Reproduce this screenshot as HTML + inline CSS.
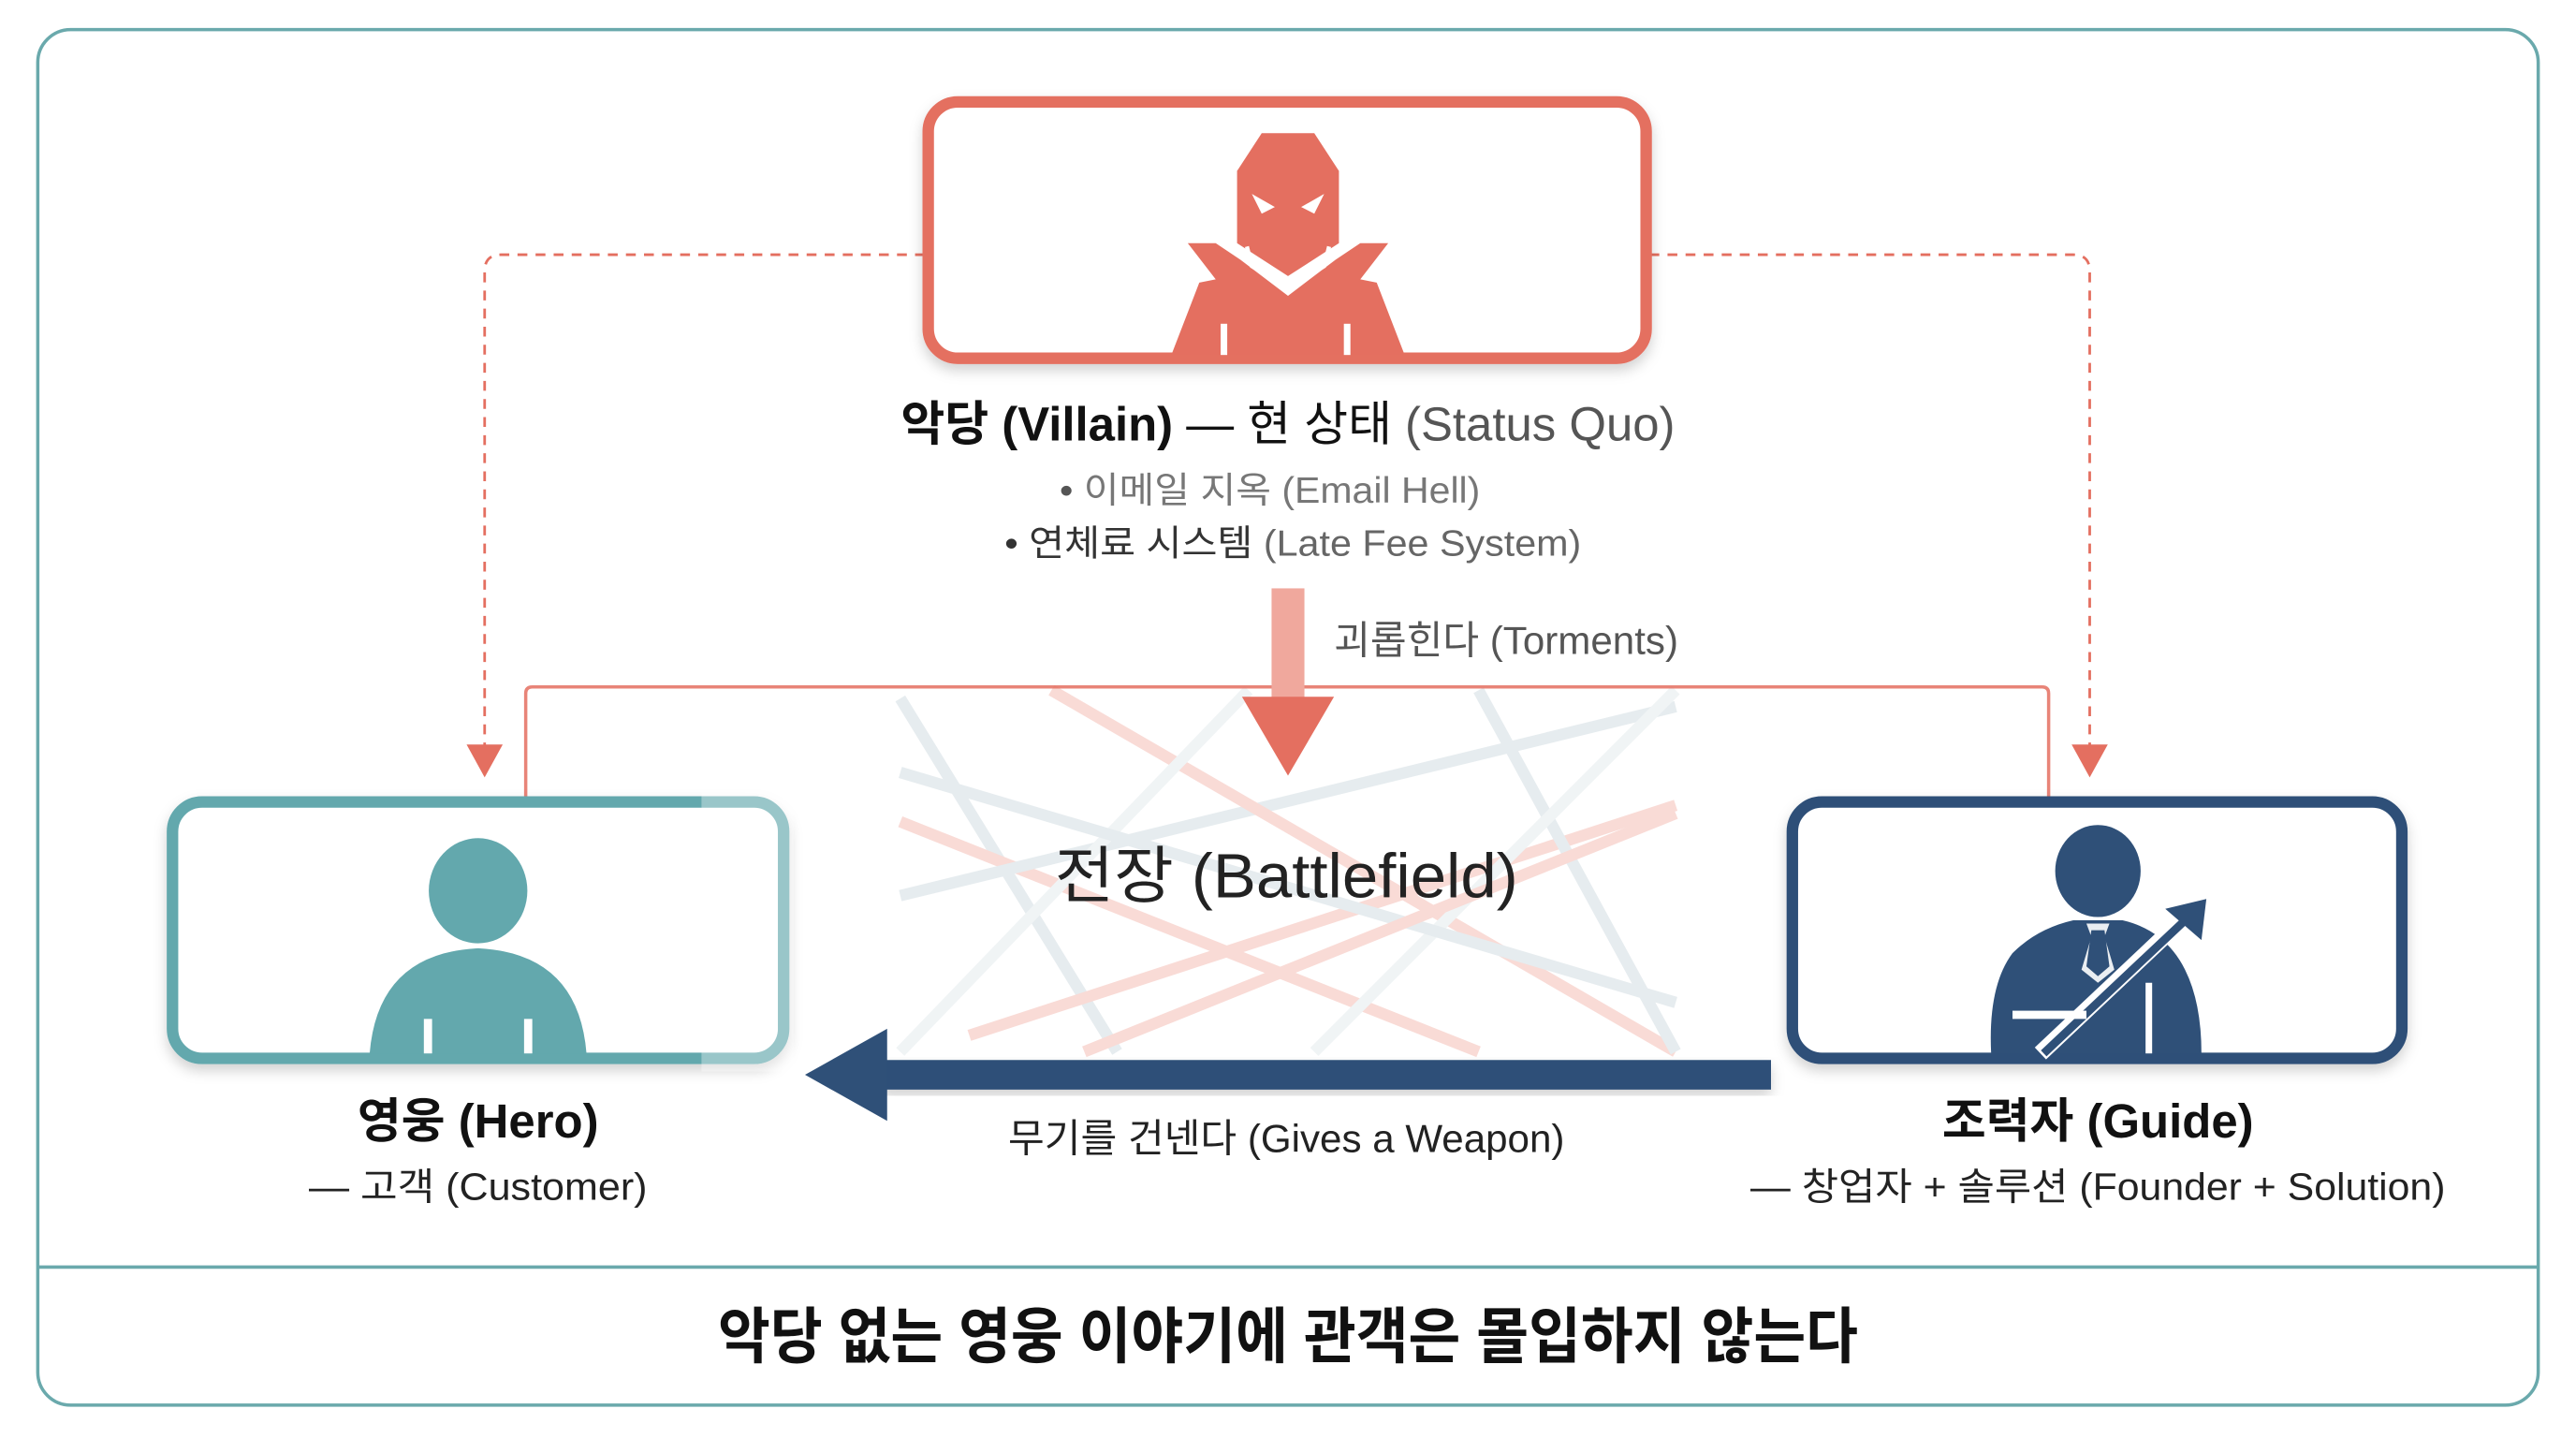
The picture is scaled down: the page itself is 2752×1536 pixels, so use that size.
<!DOCTYPE html>
<html><head><meta charset="utf-8"><style>
html,body{margin:0;padding:0;background:#fff;width:2752px;height:1536px;overflow:hidden}
svg{display:block}
text{font-family:"Liberation Sans","Noto Sans CJK KR",sans-serif}
</style></head><body>
<svg width="2752" height="1536" viewBox="0 0 1568 875" preserveAspectRatio="none" xmlns="http://www.w3.org/2000/svg">
<defs>
<filter id="sh" x="-10%" y="-10%" width="120%" height="130%"><feDropShadow dx="0" dy="4" stdDeviation="4" flood-color="#000" flood-opacity="0.18"/></filter>
</defs>
<rect width="1568" height="875" fill="#fff"/>
<rect x="23" y="18" width="1522" height="837" rx="20" fill="#fff" stroke="#6aa9ac" stroke-width="2"/>
<line x1="23" y1="771" x2="1545" y2="771" stroke="#6aa9ac" stroke-width="2"/>

<g stroke-width="7" stroke-linecap="butt" opacity="0.45">
<line x1="548" y1="425" x2="680" y2="640" stroke="#c9d6dc"/>
<line x1="548" y1="500" x2="900" y2="640" stroke="#f2b0a6"/>
<line x1="548" y1="545" x2="1020" y2="430" stroke="#c9d6dc"/>
<line x1="640" y1="420" x2="1020" y2="640" stroke="#f2b0a6"/>
<line x1="760" y1="420" x2="548" y2="640" stroke="#dfe7ea"/>
<line x1="590" y1="630" x2="1020" y2="490" stroke="#f2b0a6"/>
<line x1="900" y1="420" x2="1020" y2="640" stroke="#c9d6dc"/>
<line x1="1020" y1="420" x2="800" y2="640" stroke="#dfe7ea"/>
<line x1="548" y1="470" x2="1020" y2="610" stroke="#c9d6dc"/>
<line x1="660" y1="640" x2="1020" y2="495" stroke="#f2b0a6"/>
</g>

<g fill="none" stroke="#e46f60" stroke-width="1.6" stroke-dasharray="6,5">
<path d="M563 155 H305 Q295 155 295 165 V458"/>
<path d="M1004 155 H1262 Q1272 155 1272 165 V458"/>
</g>
<polygon points="284,453 306,453 295,473" fill="#e46f60"/>
<polygon points="1261,453 1283,453 1272,473" fill="#e46f60"/>

<path d="M320 486 V422 Q320 418 324 418 H1243 Q1247 418 1247 422 V486" fill="none" stroke="#e46f60" stroke-width="2" opacity="0.85"/>

<rect x="774" y="358" width="20" height="70" fill="#f0a89d"/>
<polygon points="756,424 812,424 784,472" fill="#e46f60"/>
<text x="812" y="398" font-size="24" fill="#555">괴롭힌다 (Torments)</text>

<rect x="565" y="62" width="437" height="156" rx="18" fill="#fff" stroke="#e46f60" stroke-width="7" filter="url(#sh)"/>
<g fill="#e46f60">
<polygon points="768,81 800,81 815,104 815,148 784,168 753,148 753,104"/>
<polygon points="723,148 740,148 755,158 784,180 813,158 828,148 845,148 828,170 838,172 855,216 713,216 730,172 740,170"/>
</g>
<polygon points="762,118 776,126 768,130" fill="#fff"/>
<polygon points="806,118 792,126 800,130" fill="#fff"/>
<rect x="743" y="197" width="4" height="19" fill="#fff"/>
<rect x="818" y="197" width="4" height="19" fill="#fff"/>
<polyline points="759,150 762,162 784,175 806,162 809,150" fill="none" stroke="#fff" stroke-width="2.5"/>

<text x="784" y="268" font-size="29" text-anchor="middle" fill="#111"><tspan font-weight="bold">악당 (Villain)</tspan> — 현 상태 <tspan fill="#555">(Status Quo)</tspan></text>
<text x="773" y="306" font-size="22" text-anchor="middle" fill="#777" textLength="256" lengthAdjust="spacingAndGlyphs"><tspan fill="#555">•</tspan>  이메일 지옥 (Email Hell)</text>
<text x="787" y="338" font-size="22" text-anchor="middle" fill="#333" textLength="351" lengthAdjust="spacingAndGlyphs">•  연체료 시스템 <tspan fill="#666">(Late Fee System)</tspan></text>

<text x="783" y="546" font-size="38" text-anchor="middle" fill="#222" textLength="282" lengthAdjust="spacingAndGlyphs">전장 (Battlefield)</text>

<rect x="105" y="488" width="372" height="156" rx="18" fill="#fff" stroke="#63a8ad" stroke-width="7" filter="url(#sh)"/>
<rect x="427" y="482" width="56" height="170" fill="#fff" opacity="0.35"/>
<ellipse cx="291" cy="542" rx="30" ry="32" fill="#63a8ad"/>
<path d="M225 641 Q230 580 291 577 Q352 580 357 641 Z" fill="#63a8ad"/>
<rect x="258" y="620" width="5" height="21" fill="#fff"/>
<rect x="319" y="620" width="5" height="21" fill="#fff"/>
<text x="291" y="692" font-size="29" font-weight="bold" text-anchor="middle" fill="#111">영웅 (Hero)</text>
<text x="291" y="730" font-size="23" text-anchor="middle" fill="#222" textLength="206" lengthAdjust="spacingAndGlyphs">— 고객 (Customer)</text>

<rect x="1091" y="488" width="371" height="156" rx="18" fill="#fff" stroke="#2f5078" stroke-width="7" filter="url(#sh)"/>
<ellipse cx="1277" cy="530" rx="26" ry="28" fill="#2f5078"/>
<path d="M1212 641 Q1210 600 1225 580 Q1240 565 1262 560 L1292 560 Q1318 566 1330 590 Q1340 610 1340 641 Z" fill="#2f5078"/>
<polygon points="1270,562 1284,562 1281,570 1287,590 1277,598 1267,590 1273,570" fill="#fff" opacity="0.9"/>
<polygon points="1273,566 1281,566 1284,588 1277,594 1270,588" fill="#2f5078"/>
<line x1="1242" y1="641" x2="1330" y2="558" stroke="#fff" stroke-width="10"/>
<line x1="1244" y1="641" x2="1330" y2="560" stroke="#2f5078" stroke-width="5"/>
<polygon points="1318,553 1343,547 1340,572" fill="#2f5078"/>
<rect x="1225" y="615" width="45" height="5" fill="#fff"/>
<rect x="1306" y="598" width="4" height="43" fill="#fff"/>
<text x="1277" y="692" font-size="29" font-weight="bold" text-anchor="middle" fill="#111">조력자 (Guide)</text>
<text x="1277" y="730" font-size="23" text-anchor="middle" fill="#222" textLength="423" lengthAdjust="spacingAndGlyphs">— 창업자 + 솔루션 (Founder + Solution)</text>

<rect x="536" y="645" width="542" height="18" fill="#2f5078" filter="url(#sh)"/>
<polygon points="490,654 540,626 540,682" fill="#2f5078"/>
<text x="783" y="701" font-size="24" text-anchor="middle" fill="#222">무기를 건넨다 (Gives a Weapon)</text>

<text x="784" y="826" font-size="37" font-weight="bold" text-anchor="middle" fill="#111" textLength="694" lengthAdjust="spacingAndGlyphs">악당 없는 영웅 이야기에 관객은 몰입하지 않는다</text>
</svg>
</body></html>
